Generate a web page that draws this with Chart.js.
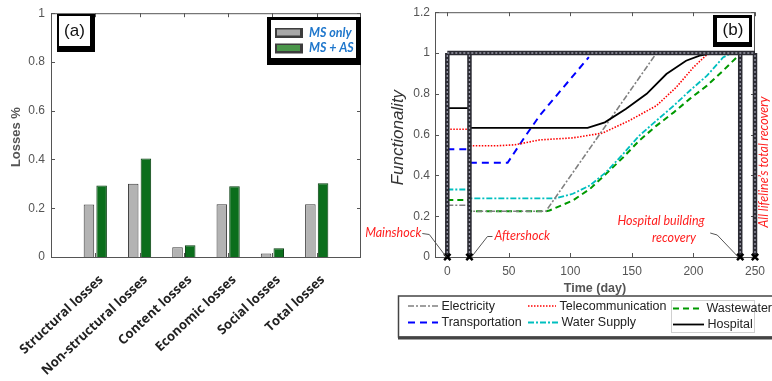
<!DOCTYPE html>
<html>
<head>
<meta charset="utf-8">
<script src="https://cdn.jsdelivr.net/npm/chart.js@4.4.0/dist/chart.umd.min.js"></script>
<style>
  html, body { margin: 0; padding: 0; background: #fff; }
  body { width: 772px; height: 381px; position: relative; overflow: hidden; }
  #lossChart { position: absolute; left: 0; top: 0; }
  #recoveryChart { position: absolute; left: 366px; top: 0; }
</style>
</head>
<body>
<canvas id="lossChart" width="366" height="381"></canvas>
<canvas id="recoveryChart" width="406" height="381"></canvas>
<script>
// ---- panel (a) data ----
const lossCategories = ['Structural losses', 'Non-structural losses', 'Content losses', 'Economic losses', 'Social losses', 'Total losses'];
const lossMsOnly = [0.215, 0.300, 0.040, 0.216, 0.014, 0.216];
const lossMsAs = [0.293, 0.404, 0.048, 0.290, 0.036, 0.303];
const lossTicks = [0, 0.2, 0.4, 0.6, 0.8, 1];

// ---- panel (b) data: [day, functionality] ----
const timeTicks = [0, 50, 100, 150, 200, 250];
const functionalityTicks = [0, 0.2, 0.4, 0.6, 0.8, 1, 1.2];
const eventDays = [0, 18, 238, 250];
const electricity = [[0, 0.254], [18, 0.254], [18, 0.224], [80, 0.224], [170, 1]];
const transportation = [[0, 0.528], [18, 0.528], [18, 0.462], [49, 0.462], [62, 0.58], [75, 0.693], [115, 0.98]];
const telecommunication = [[0, 0.626], [18, 0.626], [18, 0.545], [40, 0.545], [55, 0.55], [75, 0.574], [102, 0.584], [126, 0.607], [148, 0.669], [170, 0.742], [186, 0.832], [200, 0.93], [210, 0.987], [214, 1]];
const waterSupply = [[0, 0.331], [18, 0.331], [18, 0.287], [88, 0.287], [102, 0.31], [116, 0.351], [129, 0.416], [143, 0.506], [156, 0.595], [170, 0.669], [184, 0.742], [197, 0.815], [211, 0.889], [224, 0.978], [231, 1]];
const wastewater = [[0, 0.279], [18, 0.279], [18, 0.224], [80, 0.224], [83, 0.228], [102, 0.277], [116, 0.334], [129, 0.408], [143, 0.489], [156, 0.571], [170, 0.644], [184, 0.709], [197, 0.775], [211, 0.84], [224, 0.913], [237, 0.99]];
const hospital = [[0, 0.73], [18, 0.73], [18, 0.633], [114, 0.633], [128, 0.66], [145, 0.726], [162, 0.8], [178, 0.897], [194, 0.962], [205, 0.987], [216, 1]];

const tickFont = "'Liberation Sans', Arial, sans-serif";
Chart.defaults.font.family = tickFont;
Chart.defaults.animation = false;

const toPoints = arr => arr.map(([x, y]) => ({ x, y }));
const fmtTick = v => String(Math.round(v * 10) / 10);

// thick recovery frame: line at 1 plus a vertical at each event
const framePoints = [{ x: eventDays[0], y: 1 }, { x: eventDays[eventDays.length - 1], y: 1 }, { x: 0, y: null }]
    .concat(eventDays.flatMap(d => [{ x: d, y: 0 }, { x: d, y: 1 }, { x: d, y: null }]));

// ---------- panel (a) ----------
const lossDecor = {
    id: 'lossDecor',
    afterDraw(chart) {
        const { ctx, chartArea: a, scales } = chart;
        ctx.save();
        ctx.strokeStyle = '#555';
        ctx.lineWidth = 1;
        ctx.strokeRect(a.left + 0.5, a.top + 0.5, a.right - a.left - 1, a.bottom - a.top);
        ctx.beginPath();
        lossTicks.forEach(v => {
            const y = Math.round(scales.y.getPixelForValue(v)) + 0.5;
            ctx.moveTo(a.left, y); ctx.lineTo(a.left + 4, y);
            ctx.moveTo(a.right, y); ctx.lineTo(a.right - 4, y);
        });
        lossCategories.forEach((c, i) => {
            const x = Math.round(scales.x.getPixelForValue(i + 1)) + 0.5;
            ctx.moveTo(x, a.top); ctx.lineTo(x, a.top + 4);
            ctx.moveTo(x, a.bottom); ctx.lineTo(x, a.bottom - 4);
        });
        ctx.stroke();

        // rotated category labels
        ctx.fillStyle = '#222';
        ctx.font = "bold 13px 'Open Sans', sans-serif";
        ctx.textAlign = 'right';
        ctx.textBaseline = 'middle';
        lossCategories.forEach((c, i) => {
            const x = scales.x.getPixelForValue(i + 1) + 6;
            ctx.translate(x, a.bottom + 21);
            ctx.rotate(-43 * Math.PI / 180);
            ctx.fillText(c, 0, 0);
            ctx.setTransform(1, 0, 0, 1, 0, 0);
        });

        // y title
        ctx.fillStyle = '#555';
        ctx.font = 'bold 13px ' + tickFont;
        ctx.textAlign = 'center';
        ctx.translate(16.5, (a.top + a.bottom) / 2 + 2);
        ctx.rotate(-Math.PI / 2);
        ctx.fillText('Losses %', 0, 0);
        ctx.setTransform(1, 0, 0, 1, 0, 0);

        // panel label (a)
        ctx.fillStyle = '#000';
        ctx.fillRect(57, 14, 38, 38);
        ctx.fillStyle = '#fff';
        ctx.fillRect(59, 16, 31, 30);
        ctx.fillStyle = '#111';
        ctx.font = '17px ' + tickFont;
        ctx.fillText('(a)', 74.5, 31);

        // legend
        ctx.fillStyle = '#000';
        ctx.fillRect(267, 17, 94, 48);
        ctx.fillStyle = '#fff';
        ctx.fillRect(271, 20, 85, 38);
        const items = [['MS only', '#a8a8a8', 28], ['MS + AS', '#4a964a', 43.5]];
        items.forEach(([t, col, y]) => {
            ctx.fillStyle = '#3d3d3d';
            ctx.fillRect(275, y, 28, 10);
            ctx.fillStyle = col;
            ctx.fillRect(277, y + 1.5, 23, 6);
            ctx.fillStyle = '#1f77cc';
            ctx.font = 'italic bold 12.5px Lato, sans-serif';
            ctx.textAlign = 'left';
            ctx.fillText(t, 309, y + 4.5);
        });
        ctx.restore();
    }
};

new Chart(document.getElementById('lossChart'), {
    type: 'bar',
    data: {
        labels: [''].concat(lossCategories, ['']),
        datasets: [
            {
                label: 'MS only',
                data: [null].concat(lossMsOnly, [null]),
                backgroundColor: '#b3b3b3',
                borderColor: '#3a3a3a',
                borderWidth: 1
            },
            {
                label: 'MS + AS',
                data: [null].concat(lossMsAs, [null]),
                backgroundColor: '#0b6e1c',
                borderColor: '#063d0f',
                borderWidth: 1
            }
        ]
    },
    plugins: [lossDecor],
    options: {
        responsive: false,
        layout: { padding: { left: 0, top: 13, right: 5, bottom: 0 } },
        datasets: { bar: { categoryPercentage: 0.573, barPercentage: 0.83 } },
        plugins: { legend: { display: false }, tooltip: { enabled: false } },
        scales: {
            x: {
                offset: false,
                grid: { display: false, drawTicks: false },
                border: { display: false },
                ticks: { display: false },
                afterFit: scale => { scale.height = 124; }
            },
            y: {
                min: 0,
                max: 1,
                grid: { display: false, drawTicks: false },
                border: { display: false },
                ticks: { padding: 6, color: '#555', font: { size: 12 }, callback: fmtTick },
                afterBuildTicks: scale => { scale.ticks = lossTicks.map(v => ({ value: v })); },
                afterFit: scale => { scale.width = 51; }
            }
        }
    }
});

// ---------- panel (b) ----------
const ox = 366; // page x of this canvas

function sampleLine(ctx, ds, x1, x2, y) {
    ctx.save();
    ctx.strokeStyle = ds.borderColor;
    ctx.lineWidth = ds.borderWidth;
    ctx.setLineDash(ds.borderDash || []);
    ctx.beginPath();
    ctx.moveTo(x1, y);
    ctx.lineTo(x2, y);
    ctx.stroke();
    ctx.restore();
}

const recoveryDecor = {
    id: 'recoveryDecor',
    beforeDatasetsDraw(chart) {
        const { ctx, chartArea: a, scales } = chart;
        ctx.save();
        ctx.strokeStyle = '#555';
        ctx.lineWidth = 1;
        ctx.strokeRect(a.left + 0.5, a.top + 0.5, a.right - a.left - 1, a.bottom - a.top);
        ctx.beginPath();
        functionalityTicks.forEach(v => {
            const y = Math.round(scales.y.getPixelForValue(v)) + 0.5;
            ctx.moveTo(a.left, y); ctx.lineTo(a.left + 4, y);
            ctx.moveTo(a.right, y); ctx.lineTo(a.right - 4, y);
        });
        timeTicks.forEach(v => {
            const x = Math.round(scales.x.getPixelForValue(v)) + 0.5;
            ctx.moveTo(x, a.top); ctx.lineTo(x, a.top + 4);
            ctx.moveTo(x, a.bottom); ctx.lineTo(x, a.bottom - 4);
        });
        ctx.stroke();
        ctx.restore();
    },
    afterDraw(chart) {
        const { ctx, chartArea: a, scales } = chart;
        const px = v => scales.x.getPixelForValue(v);
        const py = v => scales.y.getPixelForValue(v);
        ctx.save();

        // axis titles
        ctx.fillStyle = '#555';
        ctx.font = 'bold 12.5px ' + tickFont;
        ctx.textAlign = 'center';
        ctx.textBaseline = 'middle';
        ctx.fillText('Time (day)', (a.left + a.right) / 2, 288.5);
        ctx.fillStyle = '#333';
        ctx.font = 'italic 17px ' + tickFont;
        ctx.translate(398 - ox, (a.top + a.bottom) / 2 + 3);
        ctx.rotate(-Math.PI / 2);
        ctx.fillText('Functionality', 0, 0);
        ctx.setTransform(1, 0, 0, 1, 0, 0);

        // event annotations
        ctx.strokeStyle = '#555';
        ctx.lineWidth = 1;
        ctx.beginPath();
        ctx.moveTo(px(0) - 25, 233.5); ctx.lineTo(px(0) - 18, 234.5); ctx.lineTo(px(0) - 1, py(0));
        ctx.moveTo(px(18) + 23, 236.5); ctx.lineTo(px(18) + 18, 236.5); ctx.lineTo(px(18) + 2, py(0));
        ctx.moveTo(px(238) - 30, 233); ctx.lineTo(px(238) - 23, 235); ctx.lineTo(px(238) - 2, py(0));
        ctx.stroke();

        ctx.fillStyle = '#ff1f1f';
        ctx.font = 'italic 12.5px Lato, sans-serif';
        ctx.textAlign = 'right';
        ctx.fillText('Mainshock', px(0) - 26, 233);
        ctx.textAlign = 'left';
        ctx.fillText('Aftershock', px(18) + 25, 236);
        ctx.textAlign = 'center';
        ctx.fillText('Hospital building', 661 - ox, 221);
        ctx.fillText('recovery', 674 - ox, 238);
        ctx.translate(763.5 - ox, 162);
        ctx.rotate(-Math.PI / 2);
        ctx.fillText('All lifeline\u2019s total recovery', 0, 0);
        ctx.setTransform(1, 0, 0, 1, 0, 0);

        // panel label (b)
        ctx.fillStyle = '#000';
        ctx.fillRect(713 - ox, 15, 39, 32);
        ctx.fillStyle = '#fff';
        ctx.fillRect(717 - ox, 18, 32, 24);
        ctx.fillStyle = '#111';
        ctx.font = '17px ' + tickFont;
        ctx.textAlign = 'center';
        ctx.fillText('(b)', 733 - ox, 30);

        // legend
        const lx = 398 - ox;
        ctx.fillStyle = '#fff';
        ctx.fillRect(lx, 296, 400, 43);
        ctx.strokeStyle = '#444';
        ctx.lineWidth = 1.5;
        ctx.strokeRect(lx + 0.5, 296, 400, 41);
        ctx.fillStyle = '#444';
        ctx.fillRect(lx, 336.5, 400, 3);
        ctx.strokeStyle = '#d0d0d0';
        ctx.lineWidth = 1;
        ctx.strokeRect(671.5 - ox, 300.5, 83, 32);

        const byLabel = {};
        chart.data.datasets.forEach(ds => { byLabel[ds.label] = ds; });
        const entries = [
            ['Electricity', 408, 438, 306],
            ['Telecommunication', 528, 556, 306],
            ['Wastewater', 673, 703, 308.5],
            ['Transportation', 408, 438, 322.5],
            ['Water Supply', 528, 558, 322.5],
            ['Hospital', 673, 704, 324.5]
        ];
        ctx.font = '12.5px ' + tickFont;
        ctx.textAlign = 'left';
        entries.forEach(([name, x1, x2, y]) => {
            sampleLine(ctx, byLabel[name], x1 - ox, x2 - ox, y);
            ctx.fillStyle = '#222';
            ctx.fillText(name, x2 - ox + 3.5, y + 0.5);
        });
        ctx.restore();
    }
};

const lineStyle = (label, data, color, width, dash) => ({
    label,
    data: toPoints(data),
    borderColor: color,
    borderWidth: width,
    borderDash: dash,
    pointRadius: 0,
    fill: false,
    tension: 0
});

new Chart(document.getElementById('recoveryChart'), {
    type: 'line',
    data: {
        datasets: [
            {
                label: 'events',
                data: eventDays.map(d => ({ x: d, y: 0 })),
                showLine: false,
                pointStyle: 'crossRot',
                pointRadius: 4.5,
                pointBorderWidth: 2.5,
                pointBorderColor: '#000',
                clip: false
            },
            {
                label: 'frameDots',
                data: framePoints,
                borderColor: '#9a9aa8',
                borderWidth: 1.3,
                borderDash: [2, 2],
                pointRadius: 0,
                clip: false
            },
            {
                label: 'frame',
                data: framePoints,
                borderColor: '#2b2b33',
                borderWidth: 4.5,
                pointRadius: 0,
                clip: false
            },
            lineStyle('Hospital', hospital, '#000000', 1.8, []),
            lineStyle('Electricity', electricity, '#808080', 1.6, [6, 2, 2, 2]),
            lineStyle('Telecommunication', telecommunication, '#ff0000', 1.6, [1.5, 1.5]),
            lineStyle('Water Supply', waterSupply, '#00bfbf', 1.8, [6, 2, 2, 2]),
            lineStyle('Transportation', transportation, '#0000ff', 2, [7, 5]),
            lineStyle('Wastewater', wastewater, '#009900', 2, [6, 4])
        ]
    },
    plugins: [recoveryDecor],
    options: {
        responsive: false,
        layout: { padding: { left: 0, top: 12, right: 16, bottom: 0 } },
        plugins: { legend: { display: false }, tooltip: { enabled: false } },
        scales: {
            x: {
                type: 'linear',
                min: -10,
                max: 250,
                grid: { display: false, drawTicks: false },
                border: { display: false },
                ticks: { padding: 7, color: '#555', font: { size: 12 }, callback: fmtTick },
                afterBuildTicks: scale => { scale.ticks = timeTicks.map(v => ({ value: v })); },
                afterFit: scale => { scale.height = 124; }
            },
            y: {
                min: 0,
                max: 1.2,
                grid: { display: false, drawTicks: false },
                border: { display: false },
                ticks: { padding: 5, color: '#555', font: { size: 12 }, callback: fmtTick },
                afterBuildTicks: scale => { scale.ticks = functionalityTicks.map(v => ({ value: v })); },
                afterFit: scale => { scale.width = 69; }
            }
        }
    }
});
</script>
</body>
</html>
